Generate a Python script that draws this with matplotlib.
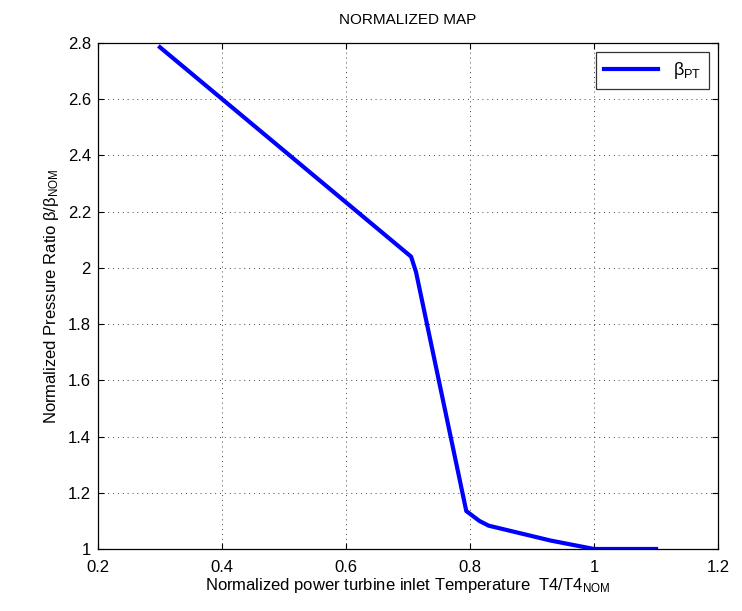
import matplotlib
matplotlib.use("Agg")
import matplotlib.pyplot as plt

plt.rcParams["font.family"] = ["Liberation Sans", "DejaVu Sans"]
plt.rcParams["mathtext.fontset"] = "custom"
plt.rcParams["mathtext.rm"] = "Liberation Sans"

# normalized temperature T4/T4_NOM and pressure ratio beta/beta_NOM
t4_ratio = [0.30, 0.705, 0.713, 0.794, 0.815, 0.83, 0.93, 1.00, 1.10]
beta_ratio = [2.785, 2.04, 1.985, 1.135, 1.10, 1.083, 1.03, 1.00, 1.00]

fig = plt.figure(figsize=(7.42, 6.11), dpi=100)
ax = fig.add_axes([0.132, 0.1015, 0.8357, 0.8281])
ax.plot(t4_ratio, beta_ratio, color="#0000ff", lw=3, label=r"$\mathregular{\beta_{PT}}$")

ax.set_xlim(0.2, 1.2)
ax.set_ylim(1, 2.8)
ax.set_xticks([0.2, 0.4, 0.6, 0.8, 1.0, 1.2])
ax.set_xticklabels(["0.2", "0.4", "0.6", "0.8", "1", "1.2"])
ax.set_yticks([1, 1.2, 1.4, 1.6, 1.8, 2, 2.2, 2.4, 2.6, 2.8])
ax.set_yticklabels(["1", "1.2", "1.4", "1.6", "1.8", "2", "2.2", "2.4", "2.6", "2.8"])
ax.grid(True, color="#444444", linestyle=(0, (1, 4)), lw=0.7)
ax.tick_params(direction="in", top=True, right=True, labelsize=12, length=4)
ax.tick_params(axis="x", pad=8)
ax.tick_params(axis="y", pad=5)
for s in ax.spines.values():
    s.set_linewidth(0.9)

ax.set_title("NORMALIZED MAP", fontsize=11, pad=14)
ax.set_xlabel(r"Normalized power turbine inlet Temperature  T4/T4$\mathregular{_{NOM}}$", fontsize=12, labelpad=1)
ax.set_ylabel(r"Normalized Pressure Ratio $\mathregular{\beta/\beta_{NOM}}$", fontsize=12, labelpad=5)

leg = ax.legend(loc="upper right", fontsize=13, fancybox=False, edgecolor="black",
                handlelength=3.0, borderaxespad=0.5, borderpad=0.45)
leg.get_frame().set_linewidth(0.9)

fig.savefig("out.png", dpi=100, facecolor="white")
